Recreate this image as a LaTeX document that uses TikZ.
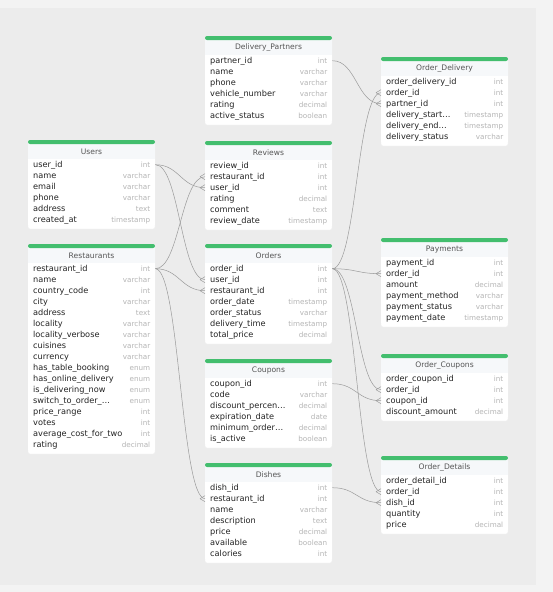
\documentclass[tikz,border=0pt]{standalone}
\usepackage{fontspec}
\setmainfont{DejaVu Sans}
\usepackage{tikz}
\usetikzlibrary{calc}
\definecolor{pagebg}{HTML}{F3F3F3}
\definecolor{canvasbg}{HTML}{ECECEC}
\definecolor{barcol}{HTML}{43BE6E}
\definecolor{headbg}{HTML}{F6F8FA}
\definecolor{headtxt}{HTML}{555555}
\definecolor{fieldtxt}{HTML}{222222}
\definecolor{typetxt}{HTML}{B5B5B5}
\definecolor{linkgray}{HTML}{9A9A9A}
\tikzset{
  colrow/.style={anchor=north west, fill=white, text=fieldtxt, font=\fontsize{8.2}{9}\selectfont, text width=117pt, align=left, inner xsep=5pt, inner ysep=0pt, minimum height=11pt, text height=7pt, text depth=1pt},
  coltype/.style={anchor=base east, text=typetxt, font=\fontsize{7.2}{8}\selectfont, inner sep=0pt},
  tblhead/.style={text=headtxt, font=\fontsize{7.6}{8}\selectfont, inner sep=0pt},
  sepline/.style={draw=black!10, line width=0.4pt},
  rel/.style={draw=linkgray, line width=0.5pt}
}
% name, left x, top y, number of rows, title, fields
\newcommand{\dbtable}[6]{%
  \filldraw[fill=white, draw=black!7, rounded corners=2pt] (#2,#3+2) rectangle ++(127,17+11*#4+4);
  \fill[headbg] (#2,#3+3) rectangle ++(127,16);
  \fill[barcol, rounded corners=2pt] (#2,#3) rectangle ++(127,4);
  \draw[sepline] (#2,#3+19) -- ++(127,0);
  \node[tblhead] (#1) at (#2+63.5,#3+11.5) {#5};
  \foreach [count=\i] \f/\t in {#6} {
    \node[colrow] (#1-\i) at (#2,#3+19+11*\i-11) {\f};
    \node[coltype] at ([xshift=-5pt]#1-\i.base east) {\t};
  }
}
% one-to-many link with crow's foot at the many side
\newcommand{\crowlink}[2]{%
  \draw[rel] (#1.east) .. controls +(24,0) and +(-24,0) .. (#2.west);
  \draw[rel] ([xshift=-5pt]#2.west) -- ([yshift=3pt]#2.west)
             ([xshift=-5pt]#2.west) -- ([yshift=-3pt]#2.west);
}

\begin{document}
\begin{tikzpicture}[x=1pt,y=-1pt]
  \fill[pagebg] (0,0) rectangle (553,592);
  \useasboundingbox (0,0) rectangle (553,592);
  \fill[canvasbg] (0,8) rectangle (536,585);

  \dbtable{dpartners}{205}{36}{6}{Delivery\_Partners}{partner\_id/int, name/varchar, phone/varchar, vehicle\_number/varchar, rating/decimal, active\_status/boolean}
  \dbtable{users}{28}{140}{6}{Users}{user\_id/int, name/varchar, email/varchar, phone/varchar, address/text, created\_at/timestamp}
  \dbtable{reviews}{205}{141}{6}{Reviews}{review\_id/int, restaurant\_id/int, user\_id/int, rating/decimal, comment/text, review\_date/timestamp}
  \dbtable{restaurants}{28}{244}{17}{Restaurants}{restaurant\_id/int, name/varchar, country\_code/int, city/varchar, address/text, locality/varchar, locality\_verbose/varchar, cuisines/varchar, currency/varchar, has\_table\_booking/enum, has\_online\_delivery/enum, is\_delivering\_now/enum, switch\_to\_order\_…/enum, price\_range/int, votes/int, average\_cost\_for\_two/int, rating/decimal}
  \dbtable{orders}{205}{244}{7}{Orders}{order\_id/int, user\_id/int, restaurant\_id/int, order\_date/timestamp, order\_status/varchar, delivery\_time/timestamp, total\_price/decimal}
  \dbtable{coupons}{205}{359}{6}{Coupons}{coupon\_id/int, code/varchar, discount\_percen…/decimal, expiration\_date/date, minimum\_order…/decimal, is\_active/boolean}
  \dbtable{dishes}{205}{463}{7}{Dishes}{dish\_id/int, restaurant\_id/int, name/varchar, description/text, price/decimal, available/boolean, calories/int}
  \dbtable{odelivery}{381}{57}{6}{Order\_Delivery}{order\_delivery\_id/int, order\_id/int, partner\_id/int, delivery\_start…/timestamp, delivery\_end…/timestamp, delivery\_status/varchar}
  \dbtable{payments}{381}{238}{6}{Payments}{payment\_id/int, order\_id/int, amount/decimal, payment\_method/varchar, payment\_status/varchar, payment\_date/timestamp}
  \dbtable{ocoupons}{381}{354}{4}{Order\_Coupons}{order\_coupon\_id/int, order\_id/int, coupon\_id/int, discount\_amount/decimal}
  \dbtable{odetails}{381}{456}{5}{Order\_Details}{order\_detail\_id/int, order\_id/int, dish\_id/int, quantity/int, price/decimal}

  \crowlink{dpartners-1}{odelivery-3}
  \crowlink{orders-1}{odelivery-2}
  \crowlink{users-1}{reviews-3}
  \crowlink{users-1}{orders-2}
  \crowlink{restaurants-1}{reviews-2}
  \crowlink{restaurants-1}{orders-3}
  \crowlink{restaurants-1}{dishes-2}
  \crowlink{orders-1}{payments-2}
  \crowlink{orders-1}{ocoupons-2}
  \crowlink{orders-1}{odetails-2}
  \crowlink{coupons-1}{ocoupons-3}
  \crowlink{dishes-1}{odetails-3}
\end{tikzpicture}
\end{document}
